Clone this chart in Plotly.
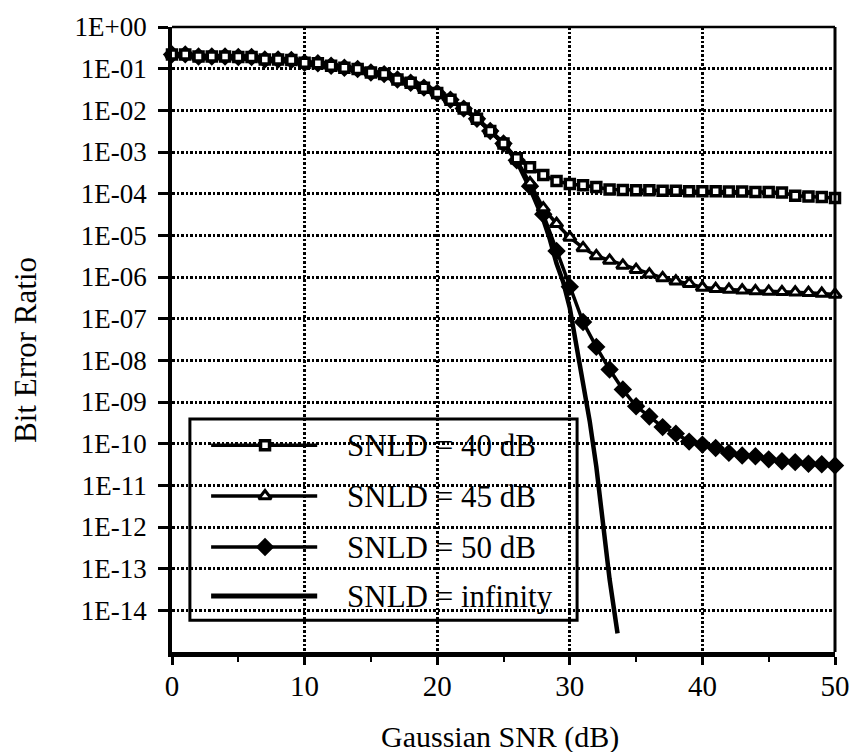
import plotly.graph_objects as go

# ---------------- data ----------------
snr_db = list(range(0, 51))

ber_snld_40 = [2.2e-1, 2.2e-1, 1.95e-1, 1.95e-1, 1.95e-1, 1.9e-1, 1.9e-1, 1.66e-1, 1.66e-1, 1.62e-1,
               1.38e-1, 1.35e-1, 1.17e-1, 1.05e-1, 9.8e-2, 8.1e-2, 7.4e-2, 5.5e-2, 4.6e-2, 3.5e-2,
               2.6e-2, 1.8e-2, 1.1e-2, 6.3e-3, 3.2e-3, 1.6e-3, 7.1e-4, 4.3e-4, 2.8e-4, 2.0e-4,
               1.7e-4, 1.6e-4, 1.45e-4, 1.26e-4, 1.23e-4, 1.2e-4, 1.2e-4, 1.17e-4, 1.17e-4, 1.15e-4,
               1.15e-4, 1.15e-4, 1.12e-4, 1.12e-4, 1.1e-4, 1.1e-4, 1.07e-4, 8.9e-5, 8.5e-5, 8.3e-5,
               7.9e-5]

ber_snld_45 = [2.2e-1, 2.2e-1, 1.95e-1, 1.95e-1, 1.95e-1, 1.9e-1, 1.9e-1, 1.66e-1, 1.66e-1, 1.62e-1,
               1.38e-1, 1.35e-1, 1.17e-1, 1.05e-1, 9.8e-2, 8.1e-2, 7.4e-2, 5.5e-2, 4.6e-2, 3.5e-2,
               2.6e-2, 1.8e-2, 1.1e-2, 6.3e-3, 3.2e-3, 1.6e-3, 6.3e-4, 1.8e-4, 4.5e-5, 1.9e-5,
               8.9e-6, 5.0e-6, 3.2e-6, 2.5e-6, 1.9e-6, 1.5e-6, 1.17e-6, 9.5e-7, 7.9e-7, 6.9e-7,
               5.6e-7, 5.2e-7, 5.0e-7, 4.8e-7, 4.6e-7, 4.5e-7, 4.4e-7, 4.3e-7, 4.2e-7, 4.0e-7,
               3.8e-7]

ber_snld_50 = [2.2e-1, 2.2e-1, 1.95e-1, 1.95e-1, 1.95e-1, 1.9e-1, 1.9e-1, 1.66e-1, 1.66e-1, 1.62e-1,
               1.38e-1, 1.35e-1, 1.17e-1, 1.05e-1, 9.8e-2, 8.1e-2, 7.4e-2, 5.5e-2, 4.6e-2, 3.5e-2,
               2.6e-2, 1.8e-2, 1.1e-2, 6.3e-3, 3.2e-3, 1.6e-3, 6.3e-4, 1.5e-4, 3.2e-5, 4.2e-6,
               5.8e-7, 8.3e-8, 2.1e-8, 6.0e-9, 2.0e-9, 7.9e-10, 4.5e-10, 2.5e-10, 1.74e-10, 1.12e-10,
               9.5e-11, 7.9e-11, 6.0e-11, 5.2e-11, 5.0e-11, 4.2e-11, 3.8e-11, 3.6e-11, 3.3e-11, 3.2e-11,
               3.0e-11]

snr_db_inf = [0, 2, 5, 8, 10, 13, 15, 17, 19, 20, 21, 22, 23, 24, 25, 26, 27, 28, 28.5, 29, 29.5,
              30, 30.5, 31, 31.5, 32, 32.5, 33, 33.6]
ber_snld_inf = [2.2e-1, 1.95e-1, 1.9e-1, 1.66e-1, 1.38e-1, 1.05e-1, 8.1e-2, 5.5e-2, 3.5e-2, 2.6e-2,
                1.8e-2, 1.1e-2, 6.3e-3, 3.2e-3, 1.6e-3, 6.0e-4, 1.35e-4, 2.4e-5, 7.9e-6, 2.1e-6,
                7.6e-7, 1.8e-7, 2.5e-8, 3.5e-9, 3.5e-10, 2.8e-11, 1.0e-12, 5.6e-14, 2.8e-15]

series_names = ["SNLD = 40 dB", "SNLD = 45 dB", "SNLD = 50 dB", "SNLD = infinity"]

x_ticks = [0, 10, 20, 30, 40, 50]
x_minor_ticks = [5, 15, 25, 35, 45]
y_tick_vals = [1e0, 1e-1, 1e-2, 1e-3, 1e-4, 1e-5, 1e-6, 1e-7, 1e-8, 1e-9,
               1e-10, 1e-11, 1e-12, 1e-13, 1e-14]
y_tick_text = ["1E+00", "1E-01", "1E-02", "1E-03", "1E-04", "1E-05", "1E-06", "1E-07",
               "1E-08", "1E-09", "1E-10", "1E-11", "1E-12", "1E-13", "1E-14"]

# ---------------- styling ----------------
FONT = "Liberation Serif, Times New Roman, serif"
BLACK = "black"

sq_marker = dict(symbol="square", size=9, color="white", line=dict(color=BLACK, width=3.5))
tri_marker = dict(symbol="triangle-up", size=11, color="white", line=dict(color=BLACK, width=3))
dia_marker = dict(symbol="diamond", size=12, color=BLACK, line=dict(color=BLACK, width=2))
GRID_DASH = "2.5px,2px"

fig = go.Figure()

# draw order: infinity, 50, 45, 40 (squares on top)
fig.add_trace(go.Scatter(x=snr_db_inf, y=ber_snld_inf, mode="lines",
                         line=dict(color=BLACK, width=4.5), name=series_names[3],
                         showlegend=False, cliponaxis=False))
fig.add_trace(go.Scatter(x=snr_db, y=ber_snld_50, mode="lines+markers",
                         line=dict(color=BLACK, width=3.5), marker=dia_marker,
                         name=series_names[2], showlegend=False, cliponaxis=False))
fig.add_trace(go.Scatter(x=snr_db, y=ber_snld_45, mode="lines+markers",
                         line=dict(color=BLACK, width=3.5), marker=tri_marker,
                         name=series_names[1], showlegend=False, cliponaxis=False))
fig.add_trace(go.Scatter(x=snr_db, y=ber_snld_40, mode="lines+markers",
                         line=dict(color=BLACK, width=3.5), marker=sq_marker,
                         name=series_names[0], showlegend=False, cliponaxis=False))

# ---------------- hand-drawn legend (paper coords) ----------------
box = dict(x0=0.027, x1=0.611, y0=0.051, y1=0.373)
row_y = [0.331, 0.2496, 0.168, 0.0896]
key_x0, key_x1, key_mid = 0.059, 0.219, 0.1403
text_x = 0.2609

shapes = [dict(type="rect", xref="paper", yref="paper", layer="between",
               fillcolor="white", line=dict(color=BLACK, width=3), **box)]
key_widths = [3.5, 3.5, 3.5, 5]
for yy, lw in zip(row_y, key_widths):
    shapes.append(dict(type="line", xref="paper", yref="paper", layer="between",
                       x0=key_x0, x1=key_x1, y0=yy, y1=yy,
                       line=dict(color=BLACK, width=lw)))
# frame: top and right border lines
shapes.append(dict(type="line", xref="paper", yref="paper", x0=0, x1=1, y0=1, y1=1,
                   line=dict(color=BLACK, width=2.5), layer="above"))
shapes.append(dict(type="line", xref="paper", yref="paper", x0=1, x1=1, y0=0, y1=1,
                   line=dict(color=BLACK, width=3), layer="above"))

# legend markers on an overlay axis spanning the plot area
for yy, mk in zip(row_y[:3], [sq_marker, tri_marker, dia_marker]):
    fig.add_trace(go.Scatter(x=[key_mid], y=[yy], mode="markers", marker=mk,
                             xaxis="x2", yaxis="y2", showlegend=False,
                             hoverinfo="skip", cliponaxis=False))

annotations = []
for yy, name in zip(row_y, series_names):
    annotations.append(dict(x=text_x, y=yy, xref="paper", yref="paper", text=name,
                            showarrow=False, xanchor="left", yanchor="middle",
                            font=dict(family=FONT, size=31, color=BLACK)))
annotations.append(dict(x=0.495, y=-0.136, xref="paper", yref="paper",
                        text="Gaussian SNR (dB)", showarrow=False,
                        xanchor="center", yanchor="middle",
                        font=dict(family=FONT, size=30, color=BLACK)))
annotations.append(dict(x=-0.222, y=0.483, xref="paper", yref="paper",
                        text="Bit Error Ratio", showarrow=False, textangle=-90,
                        xanchor="center", yanchor="middle",
                        font=dict(family=FONT, size=31, color=BLACK)))

fig.update_layout(
    width=851, height=752,
    margin=dict(l=172, r=16, t=27, b=100, autoexpand=False),
    paper_bgcolor="white", plot_bgcolor="white",
    font=dict(family=FONT, color=BLACK),
    showlegend=False,
    shapes=shapes, annotations=annotations,
    xaxis=dict(range=[0, 50], tickvals=x_ticks, ticks="outside", ticklen=8, tickwidth=2.5,
               tickcolor=BLACK, showline=True, linewidth=4.5, linecolor=BLACK, mirror=False,
               showgrid=True, gridcolor=BLACK, gridwidth=2.5, griddash=GRID_DASH,
               zeroline=False, automargin=False, ticklabelstandoff=-4,
               tickfont=dict(family=FONT, size=29, color=BLACK),
               minor=dict(tickvals=x_minor_ticks, ticks="outside", ticklen=5, tickwidth=2,
                          tickcolor=BLACK, showgrid=False)),
    yaxis=dict(type="log", range=[-15, 0], tickvals=y_tick_vals, ticktext=y_tick_text,
               ticks="outside", ticklen=10, tickwidth=2.5, tickcolor=BLACK,
               showline=True, linewidth=3.5, linecolor=BLACK, mirror=False,
               showgrid=True, gridcolor=BLACK, gridwidth=2.5, griddash=GRID_DASH,
               zeroline=False, automargin=False, ticklabelstandoff=6,
               tickfont=dict(family=FONT, size=27, color=BLACK)),
    xaxis2=dict(overlaying="x", range=[0, 1], visible=False, anchor="y2"),
    yaxis2=dict(overlaying="y", range=[0, 1], visible=False, anchor="x2"),
)

fig.write_html("out.html")
